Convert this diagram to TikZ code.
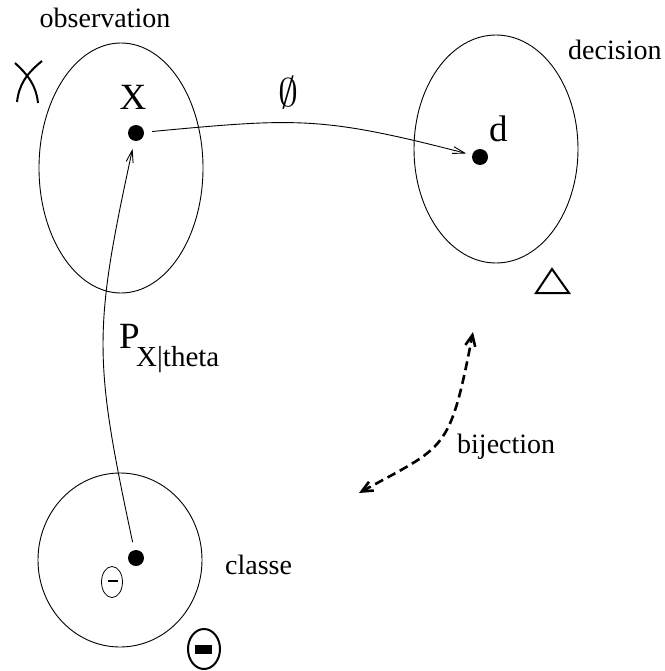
\documentclass[tikz,border=0pt]{standalone}
\usepackage{fontspec}
\setmainfont{Liberation Serif}
\usetikzlibrary{arrows.meta}
\begin{document}
\begin{tikzpicture}[x=1pt,y=-1pt,
  setell/.style={draw, line width=0.9pt},
  dot/.style={circle, fill, inner sep=0pt, minimum size=16pt},
  lbl/.style={font=\fontsize{28}{30}\selectfont, inner sep=0pt},
  big/.style={font=\fontsize{37}{40}\selectfont, inner sep=0pt},
  arr/.style={line width=0.9pt, -{Straight Barb[length=12pt,width=7pt]}},
  bij/.style={line width=2.6pt, dash pattern=on 9pt off 5pt,
    {Straight Barb[length=11pt,width=10pt]}-{Straight Barb[length=11pt,width=10pt]}},
  sym/.style={line width=2pt}]
\useasboundingbox (0,0) rectangle (664,671);
% sets
\draw[setell] (121,168) ellipse [x radius=82pt, y radius=125pt];
\draw[setell] (496,149) ellipse [x radius=82pt, y radius=114pt];
\draw[setell] (120,560) ellipse [x radius=82pt, y radius=87pt];
% labels
\node[lbl, anchor=base] (lobs) at (105,28) {observation};
\node[lbl, anchor=base west] (ldec) at (568,60) {decision};
\node[lbl, anchor=base west] (lcla) at (225,574) {classe};
\node[lbl, anchor=base west] (lbij) at (457,453) {bijection};
\node[big, anchor=base] (lX) at (133,110) {X};
\node[big, anchor=base west] (ld) at (489,142) {d};
\node[inner sep=0pt, scale=4] (lphi) at (288,93) {$\emptyset$};
\node[big, anchor=base west] (lP) at (119,348) {P};
\node[lbl, anchor=base west, font=\fontsize{29}{30}\selectfont] (lsub) at (136,366) {X|theta};
% dots
\node[dot] (xd) at (136,133) {};
\node[dot] (dd) at (480,157) {};
\node[dot] (cd) at (136,558) {};
% connectors
\draw[arr, shorten <=8pt, shorten >=6pt] (xd) .. controls (297,118) and (321,116) .. (dd);
\draw[arr, shorten <=8pt, shorten >=8pt] (cd) .. controls (93.5,359) and (93,331) .. (xd);
\coordinate (bt) at (473,332);
\coordinate (bb) at (359,493);
\draw[bij] (bb) .. controls (446,445) and (449.5,453) .. (bt);
% set symbols
\draw[sym] (15,63) .. controls (28,75) and (36,85) .. (38,103);
\draw[sym] (42,61) .. controls (26,74) and (19,85) .. (17,102);
\draw[sym] (552,269) -- (536,293) -- (569,293) -- cycle;
\draw[sym] (204,649) ellipse [x radius=16pt, y radius=20pt];
\fill (195,645) rectangle (212,654);
\draw[line width=0.8pt] (112,582) ellipse [x radius=10.5pt, y radius=15.5pt];
\draw[line width=1.2pt] (108,581) -- (118,581);
\end{tikzpicture}
\end{document}
